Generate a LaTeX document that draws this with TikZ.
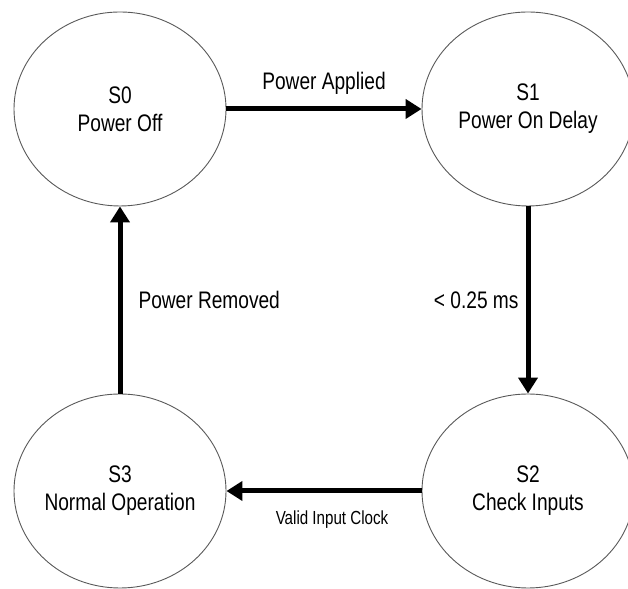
\documentclass[tikz,border=0pt]{standalone}
\usepackage{fontspec}
\setmainfont{Liberation Sans}[FakeStretch=0.8]
\usetikzlibrary{arrows.meta,shapes.geometric}
\tikzset{
  state/.style={ellipse,draw=black!65,line width=0.9bp,minimum width=212bp,minimum height=194bp,inner sep=0pt},
  statetext/.style={align=center,inner sep=0pt,font=\fontsize{24}{28}\selectfont},
  flow/.style={line width=5bp,-{Triangle[length=16bp,width=19bp]}},
  flowlabel/.style={inner sep=2bp,font=\fontsize{24}{28}\selectfont},
}
\begin{document}
\begin{tikzpicture}[x=1bp,y=1bp]
\useasboundingbox (0,0) rectangle (628,589);
%%
\node (s0) at (120bp,480bp) [state] {};
\node (s1) at (528bp,480bp) [state] {};
\node (s2) at (528bp,98bp) [state] {};
\node (s3) at (120bp,98bp) [state] {};
\node (t0) at (s0) [statetext] {S0\\Power Off};
\node (t1) at (s1) [statetext] {S1\\Power On Delay};
\node (t2) at (s2) [statetext] {S2\\Check Inputs};
\node (t3) at (s3) [statetext] {S3\\Normal Operation};
%
\draw [flow] (s0) -- node[flowlabel,midway,above=10bp] {Power Applied} (s1);
\draw [flow] (s1) -- node[flowlabel,midway,left=5bp] {< 0.25 ms} (s2);
\draw [flow] (s2) -- node[flowlabel,midway,below=15bp,xshift=8bp,font=\fontsize{19}{22}\selectfont] {Valid Input Clock} (s3);
\draw [flow] (s3) -- node[flowlabel,midway,right=14bp] {Power Removed} (s0);
%
\end{tikzpicture}
\end{document}
